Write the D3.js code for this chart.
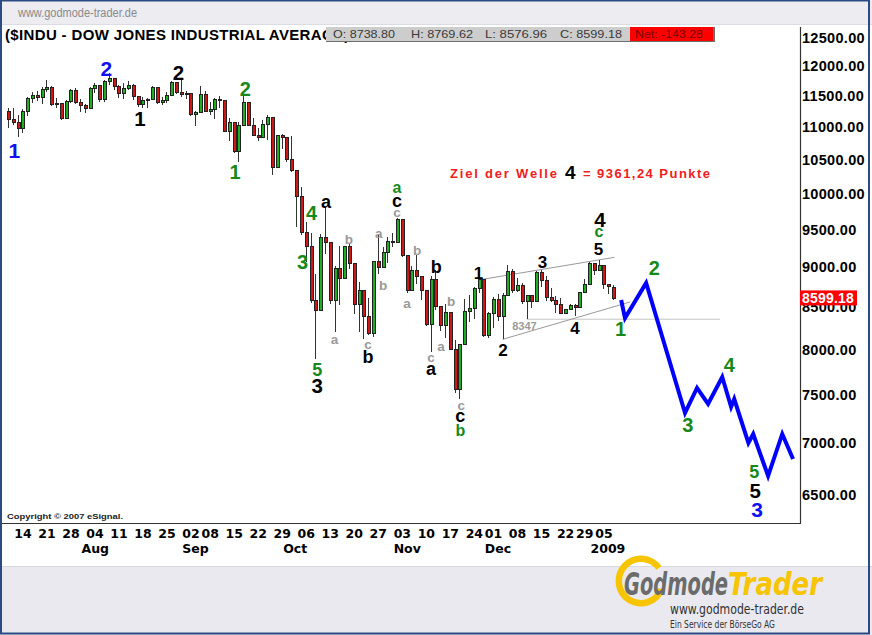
<!DOCTYPE html>
<html><head><meta charset="utf-8">
<script src="https://cdn.jsdelivr.net/npm/d3@7/dist/d3.min.js"></script>
<style>
html,body{margin:0;padding:0;background:#fff;}
svg{display:block;}
</style></head>
<body>
<svg id="chart" width="872" height="635"></svg>
<script>
// ---------------- DATA ----------------
const dates = ["2008-07-11","2008-07-14","2008-07-15","2008-07-16","2008-07-17","2008-07-18","2008-07-21","2008-07-22","2008-07-23","2008-07-24","2008-07-25","2008-07-28","2008-07-29","2008-07-30","2008-07-31",
"2008-08-01","2008-08-04","2008-08-05","2008-08-06","2008-08-07","2008-08-08","2008-08-11","2008-08-12","2008-08-13","2008-08-14","2008-08-15","2008-08-18","2008-08-19","2008-08-20","2008-08-21","2008-08-22","2008-08-25","2008-08-26","2008-08-27","2008-08-28","2008-08-29",
"2008-09-02","2008-09-03","2008-09-04","2008-09-05","2008-09-08","2008-09-09","2008-09-10","2008-09-11","2008-09-12","2008-09-15","2008-09-16","2008-09-17","2008-09-18","2008-09-19","2008-09-22","2008-09-23","2008-09-24","2008-09-25","2008-09-26","2008-09-29","2008-09-30",
"2008-10-01","2008-10-02","2008-10-03","2008-10-06","2008-10-07","2008-10-08","2008-10-09","2008-10-10","2008-10-13","2008-10-14","2008-10-15","2008-10-16","2008-10-17","2008-10-20","2008-10-21","2008-10-22","2008-10-23","2008-10-24","2008-10-27","2008-10-28","2008-10-29","2008-10-30","2008-10-31",
"2008-11-03","2008-11-04","2008-11-05","2008-11-06","2008-11-07","2008-11-10","2008-11-11","2008-11-12","2008-11-13","2008-11-14","2008-11-17","2008-11-18","2008-11-19","2008-11-20","2008-11-21","2008-11-24","2008-11-25","2008-11-26","2008-11-28",
"2008-12-01","2008-12-02","2008-12-03","2008-12-04","2008-12-05","2008-12-08","2008-12-09","2008-12-10","2008-12-11","2008-12-12","2008-12-15","2008-12-16","2008-12-17","2008-12-18","2008-12-19","2008-12-22","2008-12-23","2008-12-24","2008-12-26","2008-12-29","2008-12-30","2008-12-31",
"2009-01-02","2009-01-05","2009-01-06","2009-01-07","2009-01-08","2009-01-09"];

const openP = [11229.02,11100.54,11055.19,10962.54,11239.28,11446.66,11496.57,11467.34,11602.50,11632.38,11349.28,11370.69,11131.08,11397.56,11583.69,
11378.02,11326.32,11284.15,11615.77,11656.07,11431.43,11734.32,11782.35,11642.47,11532.96,11615.93,11659.90,11479.39,11348.55,11417.43,11430.21,11628.06,11386.25,11412.87,11502.51,11715.18,
11543.55,11516.92,11532.88,11188.23,11220.96,11510.74,11230.73,11268.92,11433.71,11421.99,10917.51,11059.02,10609.66,11019.69,11388.44,11015.69,10854.17,10825.17,11022.06,11143.13,10365.45,
10850.66,10831.07,10482.85,10325.38,9955.50,9447.11,9258.10,8577.91,8451.19,9387.61,9310.99,8577.91,8979.26,8852.22,9265.43,9033.66,8519.21,8691.25,8378.95,8175.77,9065.12,8990.96,9180.69,
9325.01,9319.83,9625.28,9139.27,8695.79,8943.81,8870.54,8693.96,8282.66,8835.25,8497.31,8273.58,8424.75,7997.28,7552.29,8046.42,8443.39,8479.47,8726.61,
8829.04,8149.09,8419.09,8591.69,8376.24,8635.42,8934.18,8691.33,8761.42,8565.09,8629.68,8564.53,8924.14,8824.34,8604.99,8579.11,8519.69,8419.49,8468.48,8515.55,8483.93,8668.39,
8776.39,9034.69,8952.89,9015.10,8769.70,8738.80];

const highP = [11292,11293,11175,11282,11470,11553,11578,11640,11750,11656,11447,11380,11419,11604,11627,
11442,11359,11630,11709,11660,11760,11867,11788,11676,11712,11736,11690,11480,11478,11459,11647,11628,11472,11553,11738,11717,
11790,11570,11533,11250,11658,11563,11385,11455,11480,11421,11127,11059,11064,11483,11391,11138,10980,11098,11174,11143,10872,
10878,10832,10844,10325,10083,9599,9448,8901,9427,9794,9326,9013,9265,9275,9303,9036,8800,8691,8599,9065,9412,9262,9389,
9442,9653,9626,9141,9008,9155,8870,8694,8876,8950,8497,8530,8437,8100,8051,8590,8640,8740,8830,
8830,8430,8611,8654,8660,9026,8967,8860,8790,8640,8630,8948,8955,8878,8732,8628,8607,8470,8531,8531,8680,8842,
9065,9035,9088,9015,8770,8769.62];

const lowP = [10972,11021,10827.71,10894,11163,11381,11400,11350,11552,11321,11291,11105,11129,11370,11358,
11223,11210,11284,11534,11396,11388,11675,11589,11456,11445,11580,11429,11308,11296,11288,11430,11365,11340,11380,11502,11520,
11473,11433,11170,11008,11220,11223,11186,11120,11300,10904,10768,10595,10459,11019,11004,10844,10767,10824,10786,10266,10365,
10651,10454,10299,9525,9420,9060,8538,7882.51,8451,9163,8530,8197,8520,8850,8967,8412,8200,8115,8166,8137,8900,8990,9049,
9259,9319,9123,8672,8695,8774,8579,8264,7965,8456,8208,8122,7991,7507,7449,8040,8317,8350,8665,
8141,8125,8239,8321,8118,8635,8666,8680,8531,8347,8488,8555,8741,8570,8553,8425,8405,8414,8468,8381,8483,8660,
8760,8892,8940,8721,8651,8576.96];

const closeP = [11100.54,11055.19,10962.54,11239.28,11446.66,11496.57,11467.34,11602.50,11632.38,11349.28,11370.69,11131.08,11397.56,11583.69,11378.02,
11326.32,11284.15,11615.77,11656.07,11431.43,11734.32,11782.35,11642.47,11532.96,11615.93,11659.90,11479.39,11348.55,11417.43,11430.21,11628.06,11386.25,11412.87,11502.51,11715.18,11543.55,
11516.92,11532.88,11188.23,11220.96,11510.74,11230.73,11268.92,11433.71,11421.99,10917.51,11059.02,10609.66,11019.69,11388.44,11015.69,10854.17,10825.17,11022.06,11143.13,10365.45,10850.66,
10831.07,10482.85,10325.38,9955.50,9447.11,9258.10,8579.19,8451.19,9387.61,9310.99,8577.91,8979.26,8852.22,9265.43,9033.66,8519.21,8691.25,8378.95,8175.77,9065.12,8990.96,9180.69,9325.01,
9319.83,9625.28,9139.27,8695.79,8943.81,8870.54,8693.96,8282.66,8835.25,8497.31,8273.58,8424.75,7997.28,7552.29,8046.42,8443.39,8479.47,8726.61,8829.04,
8149.09,8419.09,8591.69,8376.24,8635.42,8934.18,8691.33,8761.42,8565.09,8629.68,8564.53,8924.14,8824.34,8604.99,8579.11,8519.69,8419.49,8468.48,8515.55,8483.93,8668.39,8776.39,
9034.69,8952.89,9015.10,8769.70,8742.46,8599.18];

// x-axis labels (trading-day index -> text)
const weekTickIdx  = [1,6,11,16,21,26,31,36,40,45,50,55,60,65,70,75,80,85,90,95,99,104,109,114,118,122];
const weekTickText = ["14","21","28","04","11","18","25","02","08","15","22","29","06","13","20","27","03","10","17","24","01","08","15","22","29","05"];
const monthTickIdx  = [15,36,57,80,99,121];
const monthTickText = ["Aug","Sep","Oct","Nov","Dec","2009"];
// price axis
const priceTicks = [12500,12000,11500,11000,10500,10000,9500,9000,8500,8000,7500,7000,6500];
const lastPrice = 8599.18;
const infoItems = ["O: 8738.80","H: 8769.62","L: 8576.96","C: 8599.18"];
const netText = "Net: -143.28";

// Elliott wave labels: [trading-day index, price, text]
const blueLabels = [[1.3,10634,"1"],[20.5,11958,"2"],[156.0,6354,"3"]];
const blackLabels = [[35.5,11881,"2"],[27.5,11124,"1"],[64.4,7593,"3"],[155.6,6534,"5"],[123.3,9620,"4"]];
const blackSmallLabels = [[98.0,8924,"1"],[103.1,7986,"2"],[111.3,9060,"3"],[118.1,8243,"4"],[123.0,9229,"5"]];
const greenLabels = [[49.4,11604,"2"],[47.3,10305,"1"],[63.2,9717,"4"],[61.35,9060,"3"],[127.6,8231,"1"],[134.6,8982,"2"],[141.6,7175,"3"],[150.2,7824,"4"]];
const greenSmallLabels = [[64.4,7763,"5"],[155.4,6713,"5"]];
const blackLetters = [[66.25,9857,"a"],[81,9864,"c"],[75,7909,"b"],[89.2,8995,"b"],[88.1,7763,"a"],[94.2,7257,"c"]];
const greenLetters = [[81,10058,"a"],[94.2,7119,"b"],[123.1,9444,"c"]];
const grayLetters = [[71,9362,"b"],[81,9710,"c"],[77.2,9430,"a"],[78.1,8766,"b"],[85.2,9216,"b"],[83.1,8531,"a"],[68,8103,"a"],[75,8045,"c"],[88.1,7896,"c"],[90.2,8021,"a"],[92.3,8567,"b"],[94.4,7372,"c"]];

// trend lines
const triangleUpper = [[98,8829],[126.3,9120]];
const triangleLower = [[103,8110],[129.6,8556]];
const supportLine = [[108,8347],[148.3,8347]];
const supportLabel = [105,8261,"8347"];
// projected path (future trading-day index, price)
const projection = [[127.7,8580],[128.5,8361],[132.9,8791],[141.0,7299],[143.5,7565],[145.8,7394],[148.75,7685],[150.6,7362],[151.25,7446],[154.2,6993],[155.2,7083],[158.3,6670],[161.25,7083],[163.5,6834]];

// ---------------- DRAW ----------------
const svg = d3.select("#chart");
const ARIAL = "'Liberation Sans', Arial, Helvetica, sans-serif";
const NARROW = "'Liberation Sans Narrow', 'Arial Narrow', 'DejaVu Sans Condensed', sans-serif";

const x = d3.scaleLinear().domain([0,126]).range([8,613]);
const y = d3.scaleLog().domain([6500,12500]).range([494,37]);

svg.append("rect").attr("width",872).attr("height",635).attr("fill","#ffffff");
// header band
svg.append("rect").attr("x",0).attr("y",0).attr("width",872).attr("height",24).attr("fill","#ececf1");
svg.append("line").attr("x1",0).attr("x2",872).attr("y1",24.5).attr("y2",24.5).attr("stroke","#dcdce4");
svg.append("text").attr("x",18).attr("y",17).attr("font-family",ARIAL).attr("font-size",12)
  .attr("fill","#8a8a8a").attr("textLength",119).attr("lengthAdjust","spacingAndGlyphs").text("www.godmode-trader.de");
// footer band
svg.append("rect").attr("x",0).attr("y",566).attr("width",872).attr("height",69).attr("fill","#e9e9ef");
svg.append("line").attr("x1",0).attr("x2",872).attr("y1",566.5).attr("y2",566.5).attr("stroke","#d8d8e0");

// title
svg.append("text").attr("x",5).attr("y",40).attr("font-family",ARIAL).attr("font-weight","bold")
  .attr("font-size",15).attr("letter-spacing",0.35).attr("fill","#000").text("($INDU - DOW JONES INDUSTRIAL AVERAGE)");

// info box
const ib = svg.append("g");
ib.append("rect").attr("x",326).attr("y",27).attr("width",389).attr("height",15).attr("fill","#6e6e6e");
ib.append("rect").attr("x",326).attr("y",27).attr("width",304).attr("height",14).attr("fill","#cdcdcd");
ib.append("rect").attr("x",630).attr("y",27).attr("width",83).attr("height",14).attr("fill","#ff0000");
const infoX = [333,411,485,560];
infoItems.forEach((t,i)=>{
  ib.append("text").attr("x",infoX[i]).attr("y",38).attr("font-family",ARIAL).attr("font-size",11)
    .attr("fill","#3a3a3a").attr("textLength",62).attr("lengthAdjust","spacingAndGlyphs").text(t);
});
ib.append("text").attr("x",635).attr("y",38).attr("font-family",ARIAL).attr("font-size",11)
  .attr("fill","#7a0000").attr("textLength",68).attr("lengthAdjust","spacingAndGlyphs").text(netText);

// frame
svg.append("line").attr("x1",800.5).attr("x2",800.5).attr("y1",27).attr("y2",523.5).attr("stroke","#333").attr("stroke-width",1.2);
svg.append("line").attr("x1",2).attr("x2",801).attr("y1",523.5).attr("y2",523.5).attr("stroke","#333").attr("stroke-width",1.2);

// price axis
const yAxis = d3.axisRight(y).tickValues(priceTicks).tickFormat(d3.format(".2f")).tickSize(0);
const ya = svg.append("g").attr("transform","translate(802,0)").call(yAxis);
ya.select(".domain").remove();
ya.selectAll("text").attr("x",0).attr("dy","0.36em").attr("font-family",ARIAL).attr("font-weight","bold")
  .attr("font-size",14.5).attr("letter-spacing",0.3).attr("fill","#000").attr("text-anchor","start");

// last price tag
svg.append("rect").attr("x",800).attr("y",y(lastPrice)-8).attr("width",57).attr("height",15).attr("fill","#ff0000");
svg.append("text").attr("x",802).attr("y",y(lastPrice)+5).attr("font-family",ARIAL).attr("font-weight","bold")
  .attr("font-size",14).attr("fill","#fff").attr("letter-spacing",0.2).text(d3.format(".2f")(lastPrice));

// x axis
const xAxis = d3.axisBottom(x).tickValues(weekTickIdx).tickFormat((d,i)=>weekTickText[i]).tickSize(0);
const xa = svg.append("g").attr("transform","translate(0,538)").call(xAxis);
xa.select(".domain").remove();
xa.selectAll("text").attr("y",0).attr("dy",0).attr("x",1).attr("text-anchor","start")
  .attr("font-family","'DejaVu Sans', Verdana, sans-serif").attr("font-weight","bold").attr("font-size",12.5).attr("fill","#000");
const mAxis = d3.axisBottom(x).tickValues(monthTickIdx).tickFormat((d,i)=>monthTickText[i]).tickSize(0);
const ma = svg.append("g").attr("transform","translate(0,553)").call(mAxis);
ma.select(".domain").remove();
ma.selectAll("text").attr("y",0).attr("dy",0).attr("x",1).attr("text-anchor","start")
  .attr("font-family","'DejaVu Sans', Verdana, sans-serif").attr("font-weight","bold").attr("font-size",12.5).attr("fill","#000");

// copyright
svg.append("text").attr("x",7).attr("y",519).attr("font-family",ARIAL).attr("font-size",8).attr("font-weight","bold")
  .attr("fill","#222").attr("textLength",116).attr("lengthAdjust","spacingAndGlyphs").text("Copyright \u00A9 2007 eSignal.");

// trend lines
const line = d3.line().x(d=>x(d[0])).y(d=>y(d[1]));
svg.append("path").attr("d",line(supportLine)).attr("stroke","#c4c4c4").attr("stroke-width",1).attr("fill","none");
svg.append("path").attr("d",line(triangleUpper)).attr("stroke","#999").attr("stroke-width",1).attr("fill","none");
svg.append("path").attr("d",line(triangleLower)).attr("stroke","#999").attr("stroke-width",1).attr("fill","none");
svg.append("text").attr("x",x(supportLabel[0])).attr("y",y(supportLabel[1])+4).attr("font-family",ARIAL)
  .attr("font-weight","bold").attr("font-size",11).attr("fill","#9a9a9a").text(supportLabel[2]);

// candles
const idx = d3.range(dates.length);
const cg = svg.append("g").attr("shape-rendering","crispEdges");
cg.selectAll("line.wick").data(idx).join("line").attr("class","wick")
  .attr("x1",i=>Math.round(x(i))+0.5).attr("x2",i=>Math.round(x(i))+0.5)
  .attr("y1",i=>y(highP[i])).attr("y2",i=>y(lowP[i])).attr("stroke","#333").attr("stroke-width",1);
cg.selectAll("rect.body").data(idx).join("rect").attr("class","body")
  .attr("x",i=>Math.round(x(i))-1).attr("width",3)
  .attr("y",i=>y(Math.max(openP[i],closeP[i])))
  .attr("height",i=>Math.max(1,Math.abs(y(openP[i])-y(closeP[i]))))
  .attr("fill",i=>closeP[i]>=openP[i]?"#1fae1f":"#d01616")
  .attr("stroke","#222").attr("stroke-width",1);

// projection
svg.append("path").attr("d",line(projection)).attr("stroke","#0000ff").attr("stroke-width",4)
  .attr("fill","none").attr("stroke-linejoin","miter").attr("stroke-miterlimit",6);

// wave labels
function labels(arr,color,size,cls){
  svg.append("g").selectAll("text").data(arr).join("text")
    .attr("x",d=>x(d[0])).attr("y",d=>y(d[1]) + (("ac").includes(d[2]) ? 0.27*size : 0.36*size))
    .attr("text-anchor","middle").attr("font-family",ARIAL).attr("font-weight","bold")
    .attr("font-size",size).attr("fill",color).text(d=>d[2]);
}
labels(blueLabels,"#1010f0",21);
labels(blackLabels,"#000",20.5);
labels(blackSmallLabels,"#000",17);
labels(greenLabels,"#17891a",20);
labels(greenSmallLabels,"#17891a",18);
labels(blackLetters,"#000",18);
labels(greenLetters,"#17891a",16);
labels(grayLetters,"#999",13.5);

// target note
const note = svg.append("g").attr("font-family",ARIAL).attr("font-weight","bold");
note.append("text").attr("x",450).attr("y",178).attr("font-size",13).attr("fill","#f02020")
  .attr("textLength",107).attr("lengthAdjust","spacing").text("Ziel der Welle");
note.append("text").attr("x",565).attr("y",178.5).attr("font-size",19).attr("fill","#000").text("4");
note.append("text").attr("x",583).attr("y",178).attr("font-size",13).attr("fill","#f02020")
  .attr("textLength",127).attr("lengthAdjust","spacing").text("= 9361,24 Punkte");

// footer logo
const ring = d3.arc().innerRadius(19).outerRadius(25.5).startAngle(Math.PI*0.62).endAngle(Math.PI*2.3);
svg.append("path").attr("d",ring()).attr("transform","translate(641,581)").attr("fill","#f7c400");
svg.append("text").attr("x",624).attr("y",595).attr("font-family",NARROW).attr("font-weight","bold")
  .attr("font-style","italic").attr("font-size",32).attr("fill","#6b6b6b")
  .attr("textLength",104).attr("lengthAdjust","spacingAndGlyphs").text("Godmode");
svg.append("text").attr("x",728).attr("y",595).attr("font-family",NARROW).attr("font-weight","bold")
  .attr("font-style","italic").attr("font-size",32).attr("fill","#f7c400")
  .attr("textLength",94).attr("lengthAdjust","spacingAndGlyphs").text("Trader");
svg.append("text").attr("x",670).attr("y",614).attr("font-family",NARROW).attr("font-size",14)
  .attr("fill","#333").attr("textLength",134).attr("lengthAdjust","spacingAndGlyphs").text("www.godmode-trader.de");
svg.append("text").attr("x",670).attr("y",628).attr("font-family",NARROW).attr("font-size",10)
  .attr("fill","#333").attr("textLength",105).attr("lengthAdjust","spacingAndGlyphs").text("Ein Service der B\u00F6rseGo AG");

// outer border
svg.append("rect").attr("x",1).attr("y",0.5).attr("width",868).attr("height",633).attr("fill","none")
  .attr("stroke","#2b4b82").attr("stroke-width",2);
</script>
</body></html>
